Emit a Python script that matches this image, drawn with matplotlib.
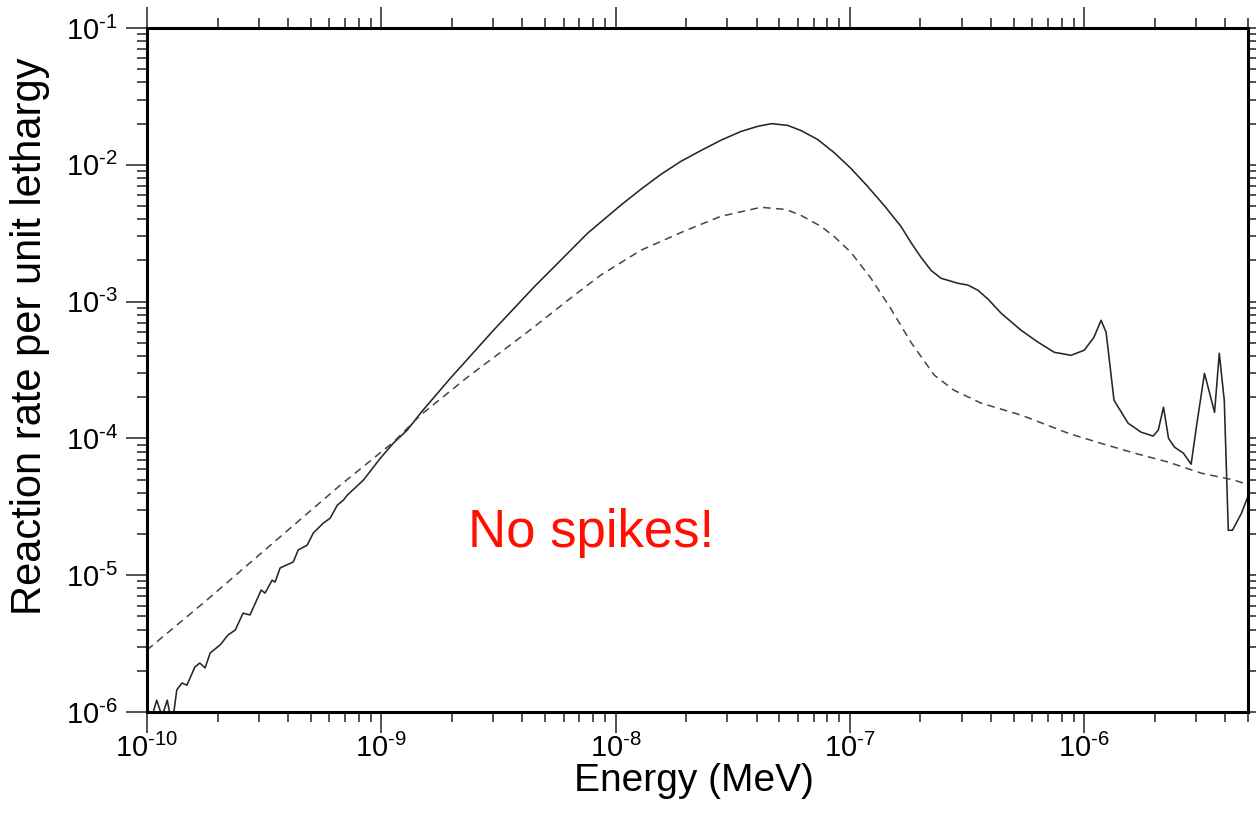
import numpy as np
import matplotlib
matplotlib.use("Agg")
import matplotlib.pyplot as plt
from matplotlib.ticker import LogLocator, FuncFormatter, NullFormatter

plt.rcParams['font.family'] = ['Liberation Sans', 'DejaVu Sans']
plt.rcParams['mathtext.fontset'] = 'custom'
plt.rcParams['mathtext.rm'] = 'Liberation Sans'
plt.rcParams['mathtext.it'] = 'Liberation Sans:italic'
plt.rcParams['mathtext.bf'] = 'Liberation Sans:bold'

# reaction rate, solid curve (energy in MeV)
solid_energy = [
    1.01e-10, 1.10e-10, 1.16e-10, 1.22e-10, 1.28e-10, 1.34e-10, 1.41e-10, 1.48e-10,
    1.60e-10, 1.68e-10, 1.77e-10, 1.86e-10, 2.05e-10, 2.22e-10, 2.38e-10, 2.57e-10,
    2.75e-10, 2.90e-10, 3.07e-10, 3.19e-10, 3.42e-10, 3.52e-10, 3.70e-10, 4.21e-10,
    4.42e-10, 4.83e-10, 5.12e-10, 5.65e-10, 6.05e-10, 6.49e-10, 6.89e-10, 7.16e-10,
    8.38e-10, 9.91e-10, 1.125e-9, 1.29e-9, 1.47e-9,
    1.97e-9, 3.01e-9, 4.47e-9, 5.82e-9, 7.59e-9, 1.05e-8, 1.28e-8, 1.56e-8,
    1.90e-8, 2.31e-8, 2.81e-8, 3.42e-8, 4.04e-8, 4.64e-8, 5.43e-8, 6.18e-8,
    7.29e-8, 8.55e-8, 1.01e-7, 1.19e-7, 1.41e-7, 1.65e-7, 1.82e-7, 2.01e-7,
    2.22e-7, 2.45e-7, 2.90e-7, 3.19e-7, 3.52e-7, 3.89e-7, 4.42e-7, 5.38e-7,
    6.35e-7, 7.45e-7, 8.79e-7, 1.00e-6, 1.10e-6, 1.18e-6,
    1.24e-6, 1.34e-6, 1.54e-6, 1.75e-6, 1.97e-6, 2.07e-6, 2.18e-6, 2.29e-6,
    2.43e-6, 2.65e-6, 2.86e-6, 3.01e-6, 3.26e-6, 3.60e-6, 3.77e-6, 3.96e-6,
    4.12e-6, 4.29e-6, 4.69e-6, 5.02e-6,
]
solid_rate = [
    7.4e-7, 1.22e-6, 9.3e-7, 1.22e-6, 8.0e-7, 1.45e-6, 1.63e-6, 1.57e-6,
    2.13e-6, 2.28e-6, 2.10e-6, 2.70e-6, 3.09e-6, 3.66e-6, 3.97e-6, 5.28e-6,
    5.12e-6, 6.25e-6, 7.78e-6, 7.40e-6, 9.20e-6, 8.91e-6, 1.13e-5, 1.25e-5,
    1.53e-5, 1.66e-5, 2.03e-5, 2.40e-5, 2.61e-5, 3.25e-5, 3.54e-5, 3.85e-5,
    4.95e-5, 7.17e-5, 9.22e-5, 1.15e-4, 1.53e-4,
    2.75e-4, 6.17e-4, 1.27e-3, 2.00e-3, 3.16e-3, 5.05e-3, 6.61e-3, 8.51e-3,
    1.06e-2, 1.27e-2, 1.51e-2, 1.75e-2, 1.91e-2, 2.00e-2, 1.94e-2, 1.78e-2,
    1.53e-2, 1.23e-2, 9.41e-3, 6.95e-3, 4.97e-3, 3.55e-3, 2.71e-3, 2.11e-3,
    1.69e-3, 1.48e-3, 1.36e-3, 1.32e-3, 1.21e-3, 1.04e-3, 8.22e-4, 6.17e-4,
    5.05e-4, 4.26e-4, 4.05e-4, 4.41e-4, 5.48e-4, 7.30e-4,
    5.97e-4, 1.90e-4, 1.29e-4, 1.11e-4, 1.04e-4, 1.15e-4, 1.69e-4, 1.00e-4,
    8.62e-5, 7.80e-5, 6.48e-5, 1.21e-4, 2.99e-4, 1.55e-4, 4.19e-4, 1.90e-4,
    2.13e-5, 2.13e-5, 2.84e-5, 3.85e-5,
]

# reference curve, dashed
dashed_energy = [
    1.00e-10, 1.80e-10, 3.45e-10, 6.68e-10, 1.125e-9, 1.47e-9, 2.33e-9, 3.23e-9,
    4.47e-9, 6.24e-9, 8.63e-9, 1.28e-8, 1.95e-8, 2.81e-8, 4.17e-8,
    5.32e-8, 6.18e-8, 7.52e-8, 8.55e-8, 1.01e-7, 1.23e-7, 1.50e-7, 1.82e-7,
    2.29e-7, 2.78e-7, 3.63e-7, 5.38e-7, 8.55e-7, 1.18e-6, 1.64e-6, 2.29e-6,
    3.16e-6, 4.38e-6, 5.07e-6,
]
dashed_rate = [
    2.84e-6, 6.58e-6, 1.72e-5, 4.55e-5, 9.37e-5, 1.48e-4, 2.80e-4, 4.26e-4,
    6.49e-4, 1.02e-3, 1.56e-3, 2.37e-3, 3.26e-3, 4.20e-3, 4.89e-3,
    4.72e-3, 4.27e-3, 3.55e-3, 3.00e-3, 2.29e-3, 1.48e-3, 8.79e-4, 5.05e-4,
    2.90e-4, 2.25e-4, 1.81e-4, 1.48e-4, 1.09e-4, 9.2e-5, 7.8e-5, 6.7e-5,
    5.57e-5, 4.95e-5, 4.55e-5,
]

decades_x = [1e-10, 1e-9, 1e-8, 1e-7, 1e-6]
decades_y = [1e-6, 1e-5, 1e-4, 1e-3, 1e-2, 1e-1]

fig = plt.figure(figsize=(12.56, 8.32), dpi=100)
ax = fig.add_axes([147 / 1256, 120 / 832, 1101 / 1256, 684 / 832])

ax.plot(solid_energy, solid_rate, color='#262626', lw=1.15, solid_joinstyle='round')
ax.plot(dashed_energy, dashed_rate, color='#444444', lw=1.1, dashes=(5, 3.5))

ax.set_xscale('log')
ax.set_yscale('log')
ax.set_xlim(1e-10, 5e-6)
ax.set_ylim(1e-6, 1e-1)

ax.set_xticks(decades_x)
ax.set_yticks(decades_y)
ax.xaxis.set_minor_locator(LogLocator(base=10, subs=np.arange(2, 10), numticks=50))
ax.yaxis.set_minor_locator(LogLocator(base=10, subs=np.arange(2, 10), numticks=50))
ax.xaxis.set_minor_formatter(NullFormatter())
ax.yaxis.set_minor_formatter(NullFormatter())
fmt = FuncFormatter(lambda v, p: r'$10^{\text{-}%d}$' % round(-np.log10(v)))
ax.xaxis.set_major_formatter(fmt)
ax.yaxis.set_major_formatter(fmt)
ax.set_xlim(1e-10, 5e-6)
ax.set_ylim(1e-6, 1e-1)

ax.tick_params(which='both', direction='out', top=True, right=True,
               labeltop=False, labelright=False, width=1.1, color='#222222')
ax.tick_params(which='major', length=15, labelsize=21)
ax.tick_params(which='minor', length=7)
ax.tick_params(axis='x', which='major', pad=1)
ax.tick_params(axis='y', which='major', pad=6)
for s in ax.spines.values():
    s.set_linewidth(2.2)

ax.set_xlabel('Energy (MeV)', fontsize=28)
ax.set_ylabel('Reaction rate per unit lethargy', fontsize=30)
ax.xaxis.set_label_coords(0.497, -0.074)
ax.yaxis.set_label_coords(-0.088, 0.55)

fig.text(468 / 1256, (832 - 547) / 832, 'No spikes!', color='#ff1000',
         fontsize=38, va='baseline', ha='left')

fig.savefig('out.png', dpi=100)
